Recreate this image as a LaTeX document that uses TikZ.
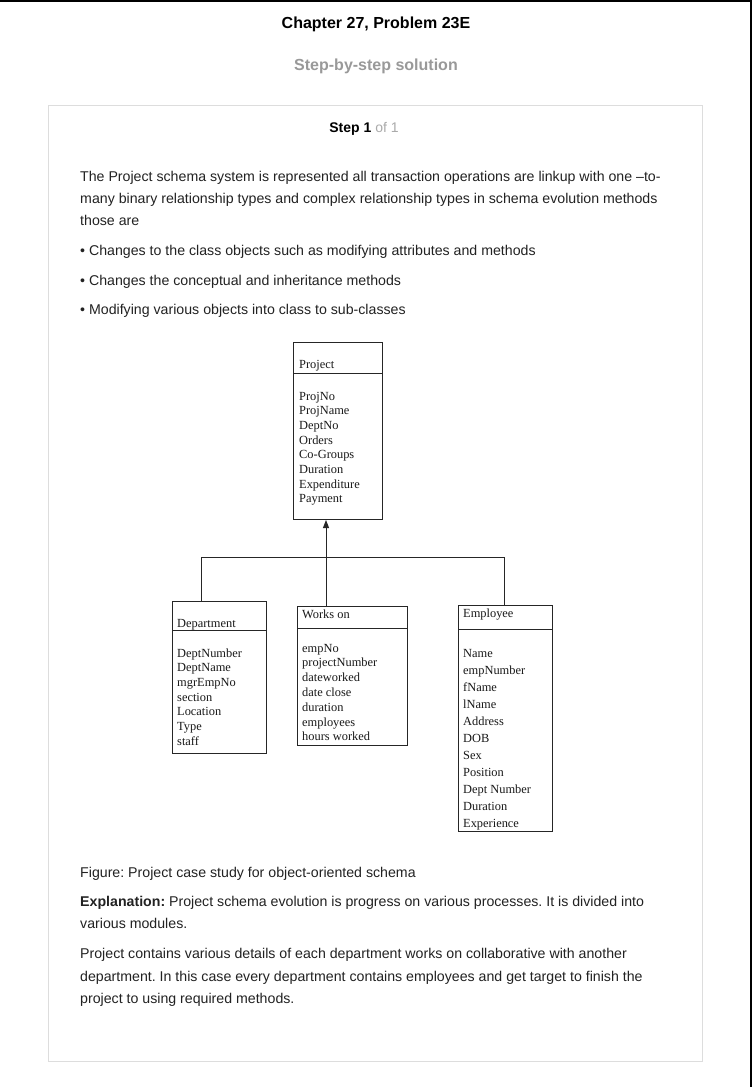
\documentclass[tikz,border=0pt]{standalone}
\usepackage{fontspec}
\setmainfont{Liberation Sans}
\newfontfamily\tms{Liberation Serif}
\usetikzlibrary{arrows.meta}
\definecolor{ttlgray}{HTML}{999999}
\definecolor{lgray}{HTML}{AAAAAA}
\definecolor{framegray}{HTML}{DDDDDD}
\definecolor{ink}{HTML}{222222}
\frenchspacing
\begin{document}
\begin{tikzpicture}[x=1pt,y=-1pt,
  body/.style={anchor=base west,inner sep=0pt,font=\fontsize{14.17}{16}\selectfont,text=ink},
  cls/.style={draw=black!85,line width=1pt,inner sep=0pt,anchor=north west},
  att/.style={anchor=base west,inner sep=0pt,font=\tms\fontsize{12.4}{14}\selectfont,text=black!90},
  conn/.style={draw=black!85,line width=1pt}]
\useasboundingbox (0,0) rectangle (752,1087);
\fill[white] (0,0) rectangle (752,1087);
\fill[black] (0,0) rectangle (752,1.5);
\fill[black] (749.5,0) rectangle (752,1087);
\draw[framegray,line width=1pt] (48.5,105.5) rectangle (702.5,1061.5);

% headings
\node[anchor=base,inner sep=0pt,font=\bfseries\fontsize{16}{18}\selectfont] (title) at (376,28) {Chapter 27, Problem 23E};
\node[anchor=base,inner sep=0pt,font=\bfseries\fontsize{16}{18}\selectfont,text=ttlgray] (sub) at (376,70) {Step-by-step solution};
\node[anchor=base,inner sep=0pt,font=\fontsize{14}{16}\selectfont] (step) at (364,132) {\textbf{Step 1} \textcolor{lgray}{of 1}};

% body text
\node[body] (p1) at (80,181) {The Project schema system is represented all transaction operations are linkup with one –to-};
\node[body] (p2) at (80,203) {many binary relationship types and complex relationship types in schema evolution methods};
\node[body] (p3) at (80,225) {those are};
\node[body] (b1) at (80,255) {• Changes to the class objects such as modifying attributes and methods};
\node[body] (b2) at (80,285) {• Changes the conceptual and inheritance methods};
\node[body] (b3) at (80,314) {• Modifying various objects into class to sub-classes};

% class boxes
\node[cls,minimum width=89pt,minimum height=177pt] (proj) at (293,342) {};
\draw[conn] (293,373) -- (382,373);
\node[att] (projh) at (299,368) {Project};
\foreach \t [count=\i from 0] in {ProjNo,ProjName,DeptNo,Orders,Co-Groups,Duration,Expenditure,Payment}
  \node[att] (pa\i) at (299,{400+14.7*\i}) {\t};

\node[cls,minimum width=94pt,minimum height=152pt] (dept) at (172,601) {};
\draw[conn] (172,630) -- (266,630);
\node[att] (depth) at (177,627) {Department};
\foreach \t [count=\i from 0] in {DeptNumber,DeptName,mgrEmpNo,section,Location,Type,staff}
  \node[att] (da\i) at (177,{657+14.7*\i}) {\t};

\node[cls,minimum width=110pt,minimum height=139pt] (works) at (297,606) {};
\draw[conn] (297,628) -- (407,628);
\node[att] (worksh) at (302,618) {Works on};
\foreach \t [count=\i from 0] in {empNo,projectNumber,dateworked,date close,duration,employees,hours worked}
  \node[att] (wa\i) at (302,{652+14.8*\i}) {\t};

\node[cls,minimum width=94pt,minimum height=226pt] (emp) at (458,605) {};
\draw[conn] (458,629) -- (552,629);
\node[att] (emph) at (463,617) {Employee};
\foreach \t [count=\i from 0] in {Name,empNumber,fName,lName,Address,DOB,Sex,Position,Dept Number,Duration,Experience}
  \node[att] (ea\i) at (463,{657+17*\i}) {\t};

% connectors
\coordinate (hub) at (326,557);
\coordinate (hl) at (201,557);
\coordinate (hr) at (504,557);
\draw[conn] (hl |- dept.north) -- (hl) -- (hr) -- (hr |- emp.north);
\draw[conn] (hub |- works.north) -- (hub);
\draw[conn,-{Triangle[width=6pt,length=8pt]}] (hub) -- (hub |- proj.south);

% caption and explanation
\node[body] (cap) at (80,877) {Figure: Project case study for object-oriented schema};
\node[body] (e1) at (80,906) {\textbf{Explanation:} Project schema evolution is progress on various processes. It is divided into};
\node[body] (e2) at (80,928) {various modules.};
\node[body] (e3) at (80,958) {Project contains various details of each department works on collaborative with another};
\node[body] (e4) at (80,981) {department. In this case every department contains employees and get target to finish the};
\node[body] (e5) at (80,1003) {project to using required methods.};
\end{tikzpicture}
\end{document}
